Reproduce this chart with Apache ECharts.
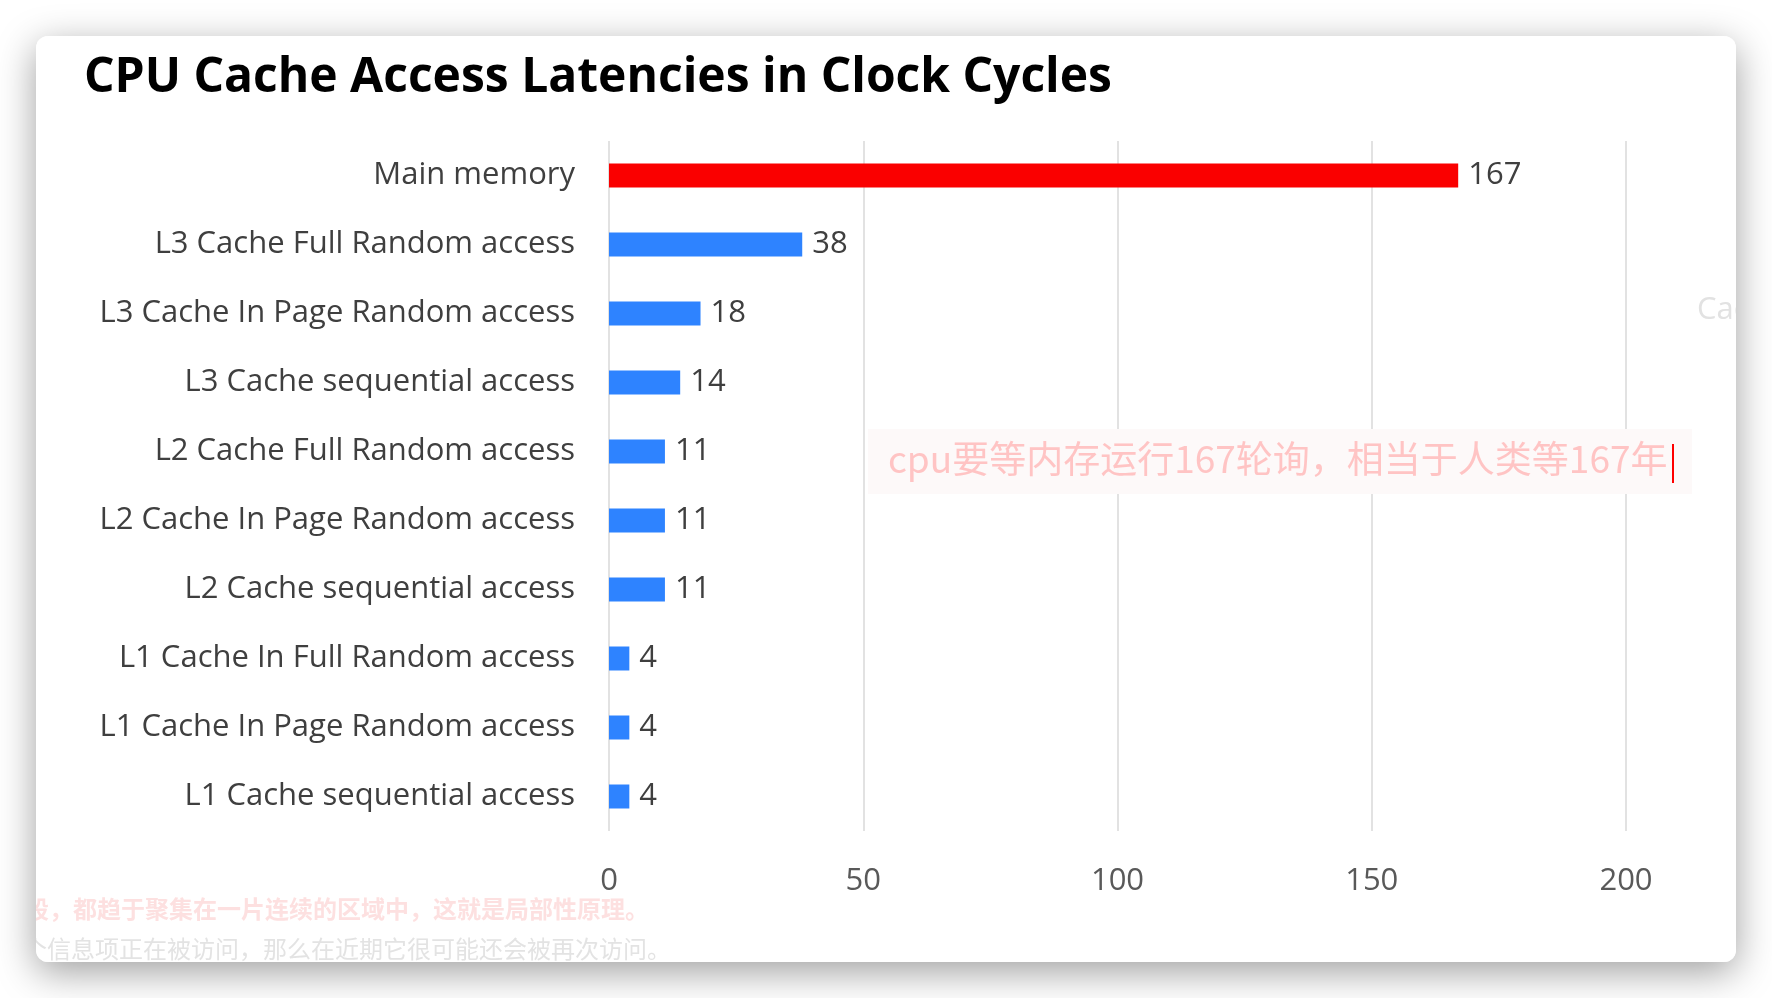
<!DOCTYPE html>
<html>
<head>
<meta charset="utf-8">
<script src="https://cdn.jsdelivr.net/npm/echarts@6/dist/echarts.min.js"></script>
<style>
  html, body { margin: 0; padding: 0; background: #ffffff; width: 1772px; height: 998px; overflow: hidden; }
  #card {
    position: absolute; left: 36px; top: 36px; width: 1700px; height: 926px;
    background: #ffffff; border-radius: 12px; overflow: hidden;
    box-shadow: 0 10px 38px rgba(0,0,0,0.38);
  }
  #chart { width: 1700px; height: 926px; }
</style>
</head>
<body>
<div id="card"><div id="chart"></div></div>
<script>
const titleText = 'CPU Cache Access Latencies in Clock Cycles';
const categories = [
  'Main memory',
  'L3 Cache Full Random access',
  'L3 Cache In Page Random access',
  'L3 Cache sequential access',
  'L2 Cache Full Random access',
  'L2 Cache In Page Random access',
  'L2 Cache sequential access',
  'L1 Cache In Full Random access',
  'L1 Cache In Page Random access',
  'L1 Cache sequential access'
];
const latencies = [167, 38, 18, 14, 11, 11, 11, 4, 4, 4];
const xTicks = [0, 50, 100, 150, 200];
const highlightCategory = 'Main memory';
const noteText = 'cpu要等内存运行167轮询，相当于人类等167年';
const bgLine1 = '段，都趋于聚集在一片连续的区域中，这就是局部性原理。';
const bgLine2 = '个信息项正在被访问，那么在近期它很可能还会被再次访问。';
const bgFragment = 'Cache';

const FONT = '"Open Sans", "Noto Sans", sans-serif';
const CJK = '"Noto Sans CJK SC", sans-serif';
const chart = echarts.init(document.getElementById('chart'), null, { renderer: 'canvas' });

chart.setOption({
  backgroundColor: '#ffffff',
  animation: false,
  title: {
    text: titleText,
    left: 43, top: 13,
    textStyle: { fontFamily: FONT, fontWeight: 'bold', fontSize: 48, color: '#000000' }
  },
  grid: { left: 573, right: 110, top: 105, bottom: 131, containLabel: false },
  xAxis: {
    type: 'value',
    min: xTicks[0], max: xTicks[xTicks.length - 1], interval: xTicks[1] - xTicks[0],
    axisLine: { show: false },
    axisTick: { show: false },
    splitLine: { show: true, lineStyle: { color: '#d9d9d9', width: 1.5 } },
    axisLabel: { margin: 35, fontFamily: FONT, fontSize: 31, color: '#595959' }
  },
  yAxis: {
    type: 'category',
    inverse: true,
    data: categories,
    axisLine: { show: false },
    axisTick: { show: false },
    splitLine: { show: false },
    axisLabel: { margin: 34, fontFamily: FONT, fontSize: 31, color: '#3f3f3f', padding: [5, 0, 0, 0] }
  },
  series: [{
    type: 'bar',
    data: latencies,
    barWidth: 24,
    itemStyle: {
      color: function (p) { return p.name === highlightCategory ? '#fa0000' : '#2e83ff'; }
    },
    label: {
      show: true, position: 'right', distance: 10,
      fontFamily: FONT, fontSize: 31, color: '#3f3f3f', padding: [5, 0, 0, 0]
    }
  }],
  graphic: [
    { type: 'rect', left: 832, top: 393, shape: { width: 824, height: 65 }, style: { fill: '#fdf9f9' }, z: 10 },
    { type: 'text', left: 852, top: 404, style: { text: noteText, fontFamily: CJK, fontSize: 37, fill: '#ffc4c4' }, z: 11 },
    { type: 'rect', left: 1636, top: 408, shape: { width: 2, height: 39 }, style: { fill: '#ff0000' }, z: 12 },
    { type: 'text', left: 1661, top: 259, style: { text: bgFragment, fontFamily: FONT, fontSize: 31, fill: '#e2e2e2' }, z: 5 },
    { type: 'text', left: -11, top: 861, style: { text: bgLine1, fontFamily: CJK, fontWeight: 'bold', fontSize: 24, fill: '#fde0e0' }, z: 5 },
    { type: 'text', left: -13, top: 901, style: { text: bgLine2, fontFamily: CJK, fontSize: 24, fill: '#e3e3e3' }, z: 5 }
  ]
});
</script>
</body>
</html>
